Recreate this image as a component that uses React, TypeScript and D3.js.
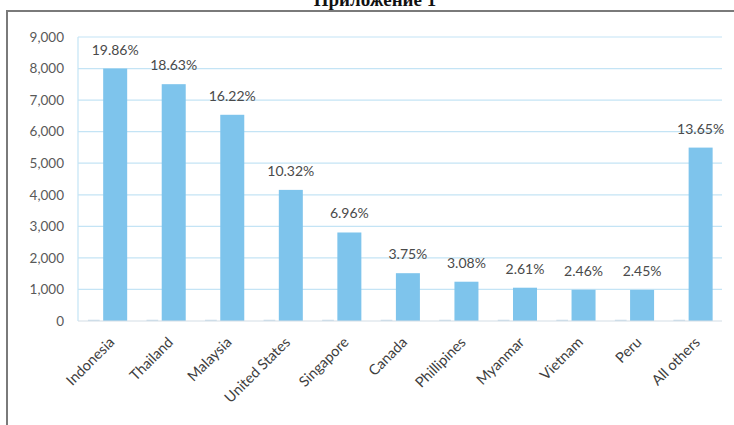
import React from "react";
import * as d3 from "d3";

const categories = ["Indonesia", "Thailand", "Malaysia", "United States", "Singapore", "Canada", "Phillipines", "Myanmar", "Vietnam", "Peru", "All others"];
const mainValues = [8000, 7505, 6535, 4155, 2805, 1515, 1245, 1055, 990, 985, 5495];
const minorValues = [40, 40, 40, 40, 40, 40, 40, 40, 40, 40, 40];
const percentLabels = ["19.86%", "18.63%", "16.22%", "10.32%", "6.96%", "3.75%", "3.08%", "2.61%", "2.46%", "2.45%", "13.65%"];
const yTicks = [0, 1000, 2000, 3000, 4000, 5000, 6000, 7000, 8000, 9000];
const title = "Приложение 1";

const W = 734, H = 425;
const plot = { left: 78, right: 722, top: 37, bottom: 321 };
const font = "Lato, 'Open Sans', sans-serif";

export default function App() {
  const x = d3.scaleBand<string>().domain(categories).range([plot.left, plot.right]).padding(0);
  const y = d3.scaleLinear().domain([0, 9000]).range([plot.bottom, plot.top]);
  const bw = x.bandwidth();
  const fmt = d3.format(",");
  const mainOff = bw * 0.43, mainW = bw * 0.41;
  const minorOff = bw * 0.17, minorW = bw * 0.2;
  return (
    <svg width={W} height={H} style={{ position: "absolute", left: 0, top: 0, background: "#fff" }}>
      <rect x={0} y={0} width={W} height={H} fill="#fff" />
      <text x={375} y={6} textAnchor="middle" fontFamily="'Liberation Serif', serif" fontWeight="bold" fontSize={19} fill="#111">{title}</text>
      <line x1={6} x2={W} y1={11} y2={11} stroke="#7a7a7a" strokeWidth={2} />
      <line x1={7} x2={7} y1={10} y2={H} stroke="#7a7a7a" strokeWidth={2} />
      {yTicks.map((t) => (
        <g key={t}>
          {t > 0 && <line x1={plot.left} x2={plot.right} y1={y(t)} y2={y(t)} stroke="#c4e4f5" strokeWidth={1.2} />}
          <text x={64} y={y(t)} dy="0.35em" textAnchor="end" fontFamily={font} fontSize={13.5} fill="#595959">{fmt(t)}</text>
        </g>
      ))}
      <line x1={plot.left} x2={plot.left} y1={plot.top} y2={plot.bottom} stroke="#c4e4f5" strokeWidth={1.2} />
      {categories.map((c, i) => (
        <g key={c}>
          <rect x={(x(c) as number) + minorOff} y={y(minorValues[i])} width={minorW} height={plot.bottom - y(minorValues[i])} fill="#c9dcea" />
          <rect x={(x(c) as number) + mainOff} y={y(mainValues[i])} width={mainW} height={plot.bottom - y(mainValues[i])} fill="#7ec4ec" />
          <text x={(x(c) as number) + mainOff + mainW / 2} y={y(mainValues[i]) - 14} textAnchor="middle" fontFamily={font} fontSize={14} fill="#4a4a4a">{percentLabels[i]}</text>
          <text transform={`translate(${(x(c) as number) + bw / 2 + 1},${plot.bottom + 15}) rotate(-45)`} textAnchor="end" dy="0.7em" fontFamily={font} fontSize={14.5} fill="#404040">{c}</text>
        </g>
      ))}
      <line x1={plot.left} x2={plot.right} y1={plot.bottom} y2={plot.bottom} stroke="#d3dde6" strokeWidth={1.2} />
    </svg>
  );
}
